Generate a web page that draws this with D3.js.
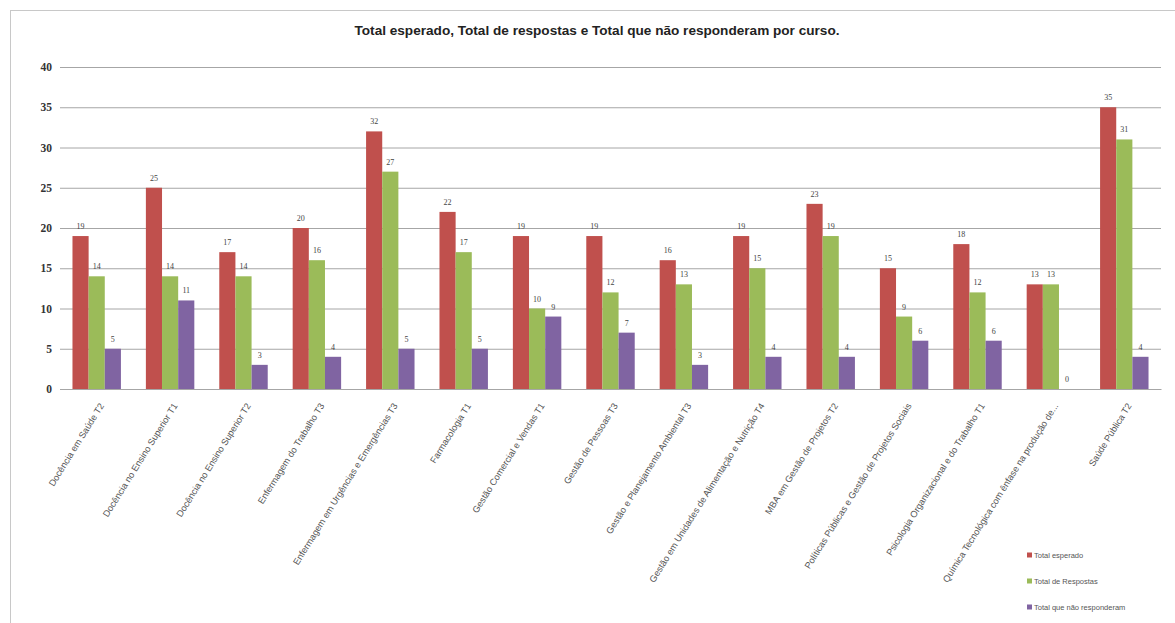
<!DOCTYPE html>
<html>
<head>
<meta charset="utf-8">
<script src="https://cdn.jsdelivr.net/npm/d3@7"></script>
<style>
  html, body { margin: 0; padding: 0; background: #fff; }
  svg { display: block; font-family: "Liberation Sans", Arial, sans-serif; }
</style>
</head>
<body>
<svg id="chart" width="1175" height="623"></svg>
<script>
const categories = [
  "Docência em Saúde T2",
  "Docência no Ensino Superior T1",
  "Docência no Ensino Superior T2",
  "Enfermagem do Trabalho T3",
  "Enfermagem em Urgências e Emergências T3",
  "Farmacologia T1",
  "Gestão Comercial e Vendas T1",
  "Gestão de Pessoas T3",
  "Gestão e Planejamento Ambiental T3",
  "Gestão em Unidades de Alimentação e Nutrição T4",
  "MBA em Gestão de Projetos T2",
  "Políticas Públicas e Gestão de Projetos Sociais",
  "Psicologia Organizacional e do Trabalho T1",
  "Química Tecnológica com ênfase na produção de...",
  "Saúde Pública T2"
];
const seriesNames = ["Total esperado", "Total de Respostas", "Total que não responderam"];
const totalEsperado = [19, 25, 17, 20, 32, 22, 19, 19, 16, 19, 23, 15, 18, 13, 35];
const totalRespostas = [14, 14, 14, 16, 27, 17, 10, 12, 13, 15, 19, 9, 12, 13, 31];
const totalNaoResponderam = [5, 11, 3, 4, 5, 5, 9, 7, 3, 4, 4, 6, 6, 0, 4];
const yTicks = [0, 5, 10, 15, 20, 25, 30, 35, 40];
const colors = ["#C0504D", "#9BBB59", "#8064A2"];
const title = "Total esperado, Total de respostas e Total que não responderam por curso.";

const seriesValues = [totalEsperado, totalRespostas, totalNaoResponderam];

const svg = d3.select("#chart");

// chart border
svg.append("rect")
  .attr("x", 10.5).attr("y", 10.5)
  .attr("width", 1180).attr("height", 640)
  .attr("fill", "#fff").attr("stroke", "#c8c8c8");

const plotLeft = 60, plotRight = 1161, plotTop = 67, plotBottom = 389;

const x = d3.scaleBand().domain(categories).range([plotLeft, plotRight])
  .paddingInner(0.34).paddingOuter(0.17);
const xs = d3.scaleBand().domain(d3.range(seriesNames.length)).range([0, x.bandwidth()]);
const y = d3.scaleLinear().domain([0, 40]).range([plotBottom, plotTop]);

// gridlines + y axis
const yAxis = d3.axisLeft(y).tickValues(yTicks).tickSize(-(plotRight - plotLeft)).tickPadding(8);
const gy = svg.append("g").attr("transform", `translate(${plotLeft},0)`).call(yAxis);
gy.select(".domain").remove();
gy.selectAll(".tick line").attr("stroke", "#a6a6a6").attr("stroke-width", 1);
gy.selectAll(".tick text")
  .attr("fill", "#333").attr("font-size", 11.5)
  .attr("font-family", "'Liberation Serif', serif").attr("font-weight", "bold");

// bars
const groups = svg.append("g").selectAll("g")
  .data(categories).join("g")
  .attr("transform", d => `translate(${x(d)},0)`);

groups.each(function(cat, ci) {
  const g = d3.select(this);
  seriesValues.forEach((vals, si) => {
    const v = vals[ci];
    g.append("rect")
      .attr("x", xs(si)).attr("width", xs.bandwidth())
      .attr("y", y(v)).attr("height", y(0) - y(v))
      .attr("fill", colors[si]);
    g.append("text")
      .attr("x", xs(si) + xs.bandwidth() / 2)
      .attr("y", y(v) - 7)
      .attr("text-anchor", "middle")
      .attr("font-size", 8).attr("fill", "#444")
      .attr("font-family", "'Liberation Serif', serif")
      .text(v);
  });
});

// x labels
const xAxis = d3.axisBottom(x).tickSize(0).tickPadding(0);
const gx = svg.append("g").attr("transform", `translate(0,${plotBottom})`).call(xAxis);
gx.select(".domain").attr("stroke", "#a6a6a6");
gx.selectAll(".tick text")
  .attr("text-anchor", "end")
  .attr("font-size", 9.2)
  .attr("fill", "#555")
  .attr("transform", "translate(5,15) rotate(-58)")
  .attr("dy", "0.35em")
  .attr("y", 0).attr("x", 0);

// title
svg.append("text")
  .attr("x", 597).attr("y", 35)
  .attr("text-anchor", "middle")
  .attr("font-size", 13.6).attr("font-weight", "bold").attr("fill", "#222")
  .text(title);

// legend
const legend = svg.append("g").selectAll("g").data(seriesNames).join("g")
  .attr("transform", (d, i) => `translate(1027,${555 + i * 26})`);
legend.append("rect").attr("x", 0).attr("y", -2.5).attr("width", 5).attr("height", 5)
  .attr("fill", (d, i) => colors[i]);
legend.append("text").attr("x", 7).attr("y", 0).attr("dy", "0.35em")
  .attr("font-size", 7.5).attr("fill", "#555").text(d => d);
</script>
</body>
</html>
